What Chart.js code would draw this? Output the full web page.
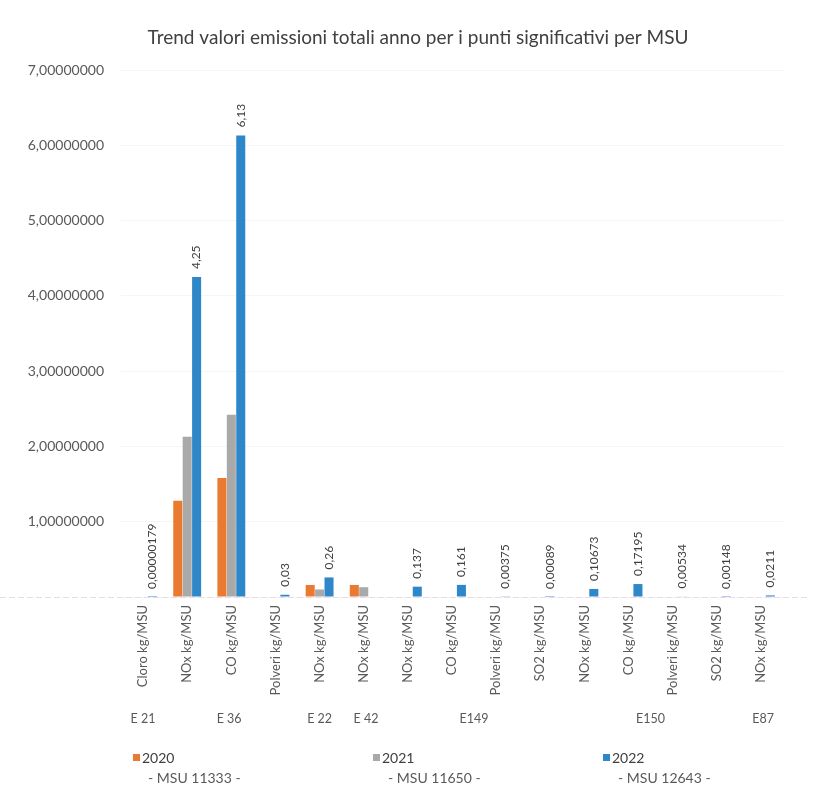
<!DOCTYPE html>
<html>
<head>
<meta charset="utf-8">
<script src="https://cdn.jsdelivr.net/npm/chart.js@4.4.1/dist/chart.umd.min.js"></script>
<style>
  html, body { margin: 0; padding: 0; background: #ffffff; }
  #wrap { width: 814px; height: 787px; position: relative; }
</style>
</head>
<body>
<div id="wrap"><canvas id="chart" width="814" height="787"></canvas></div>
<script>
// Emission points and the pollutant measured at each one
const categories = [
  'Cloro kg/MSU', 'NOx kg/MSU', 'CO kg/MSU', 'Polveri kg/MSU', 'NOx kg/MSU',
  'NOx kg/MSU', 'NOx kg/MSU', 'CO kg/MSU', 'Polveri kg/MSU', 'SO2 kg/MSU',
  'NOx kg/MSU', 'CO kg/MSU', 'Polveri kg/MSU', 'SO2 kg/MSU', 'NOx kg/MSU'
];

// Emission point groups: name and the category index the name sits under
const groupNames = ['E 21', 'E 36', 'E 22', 'E 42', 'E149', 'E150', 'E87'];
const groupAnchors = [0, 1.95, 4, 5.05, 7.5, 11.5, 14.05];

// Yearly totals (kg per MSU)
const years = ['2020', '2021', '2022'];
const msuTotals = ['- MSU 11333 -', '- MSU 11650 -', '- MSU 12643 -'];
const values2020 = [0, 1.28, 1.58, 0, 0.16, 0.16, 0, 0, 0, 0, 0, 0, 0, 0, 0];
const values2021 = [0, 2.13, 2.42, 0, 0.10, 0.13, 0, 0, 0, 0, 0, 0, 0, 0, 0];
const values2022 = [0.00000179, 4.25, 6.13, 0.03, 0.26, null, 0.137, 0.161, 0.00375, 0.00089, 0.10673, 0.17195, 0.00534, 0.00148, 0.0211];

// Y axis ticks
const yTicks = [0, 1, 2, 3, 4, 5, 6, 7];

const chartTitle = 'Trend valori emissioni totali anno per i punti significativi per MSU';
const seriesColors = ['#EA7A30', '#A9A9A9', '#2E87C8'];
const textColor = '#595959';
const fontFamily = 'Lato, "Open Sans", "DejaVu Sans", sans-serif';

const itNumber = v => String(v).replace('.', ',');

// Chart title, centred over the plot
const titlePlugin = {
  id: 'titlePlugin',
  afterDraw(chart) {
    const ctx = chart.ctx;
    ctx.save();
    ctx.font = '19px ' + fontFamily;
    ctx.fillStyle = '#404040';
    ctx.textAlign = 'center';
    ctx.textBaseline = 'middle';
    ctx.fillText(chartTitle, 418, 38);
    ctx.restore();
  }
};

// Value labels written vertically above the 2022 bars
const valueLabels = {
  id: 'valueLabels',
  afterDatasetsDraw(chart) {
    const ctx = chart.ctx;
    const meta = chart.getDatasetMeta(2);
    ctx.save();
    ctx.font = '12px ' + fontFamily;
    ctx.fillStyle = '#404040';
    ctx.textAlign = 'left';
    ctx.textBaseline = 'middle';
    meta.data.forEach((bar, i) => {
      const v = values2022[i];
      if (v === null || v === undefined) return;
      ctx.save();
      ctx.translate(bar.x, bar.y - 8);
      ctx.rotate(-Math.PI / 2);
      ctx.fillText(itNumber(v), 0, 0);
      ctx.restore();
    });
    ctx.restore();
  }
};

// Second level of the category axis and the zero line across the page
const groupAxis = {
  id: 'groupAxis',
  afterDraw(chart) {
    const ctx = chart.ctx;
    const x = chart.scales.x;
    const y = chart.scales.y;
    ctx.save();
    const y0 = Math.round(y.getPixelForValue(0)) + 0.5;
    ctx.strokeStyle = '#ead9e6';
    ctx.lineWidth = 1;
    ctx.setLineDash([6, 3]);
    ctx.beginPath();
    ctx.moveTo(0, y0);
    ctx.lineTo(chart.width - 4, y0);
    ctx.stroke();
    ctx.setLineDash([]);

    ctx.font = '12.5px ' + fontFamily;
    ctx.fillStyle = textColor;
    ctx.textAlign = 'center';
    ctx.textBaseline = 'middle';
    groupNames.forEach((name, i) => {
      const a = groupAnchors[i];
      const lo = Math.floor(a), hi = Math.ceil(a);
      const px = x.getPixelForValue(lo) + (x.getPixelForValue(hi) - x.getPixelForValue(lo)) * (a - lo);
      ctx.fillText(name, px, 719);
    });
    ctx.restore();
  }
};

// Legend: colour box and year, with the MSU total on a second line
const yearLegend = {
  id: 'yearLegend',
  afterDraw(chart) {
    const ctx = chart.ctx;
    const xs = [133, 373, 603];
    ctx.save();
    ctx.textBaseline = 'middle';
    ctx.textAlign = 'left';
    years.forEach((yr, i) => {
      ctx.fillStyle = seriesColors[i];
      ctx.fillRect(xs[i], 754, 7, 7);
      ctx.fillStyle = '#404040';
      ctx.font = '14px ' + fontFamily;
      ctx.fillText(yr, xs[i] + 9, 758);
      ctx.fillStyle = textColor;
      ctx.font = '14px ' + fontFamily;
      ctx.fillText(msuTotals[i], xs[i] + 15, 778);
    });
    ctx.restore();
  }
};

new Chart(document.getElementById('chart'), {
  type: 'bar',
  data: {
    labels: categories,
    datasets: [
      { label: years[0], data: values2020, backgroundColor: seriesColors[0] },
      { label: years[1], data: values2021, backgroundColor: seriesColors[1] },
      { label: years[2], data: values2022, backgroundColor: seriesColors[2] }
    ]
  },
  options: {
    responsive: false,
    animation: false,
    devicePixelRatio: 1,
    categoryPercentage: 0.64,
    barPercentage: 0.96,
    layout: { padding: { left: 0, right: 31, top: 70, bottom: 0 } },
    plugins: {
      legend: { display: false },
      tooltip: { enabled: false },
      title: { display: false }
    },
    scales: {
      x: {
        grid: { display: false, drawTicks: false },
        border: { display: false },
        ticks: {
          color: textColor,
          font: { family: fontFamily, size: 13 },
          minRotation: 90,
          maxRotation: 90,
          autoSkip: false,
          padding: 8
        },
        afterFit(scale) { scale.height = 190; }
      },
      y: {
        min: 0,
        max: 7,
        afterBuildTicks(scale) { scale.ticks = yTicks.map(v => ({ value: v })); },
        grid: { color: '#f5f5f5', drawTicks: false },
        border: { display: false },
        ticks: {
          color: textColor,
          font: { family: fontFamily, size: 14 },
          padding: 17,
          callback: v => (v === 0 ? '' : v.toFixed(8).replace('.', ','))
        },
        afterFit(scale) { scale.width = 121; }
      }
    }
  },
  plugins: [titlePlugin, valueLabels, groupAxis, yearLegend]
});
</script>
</body>
</html>
